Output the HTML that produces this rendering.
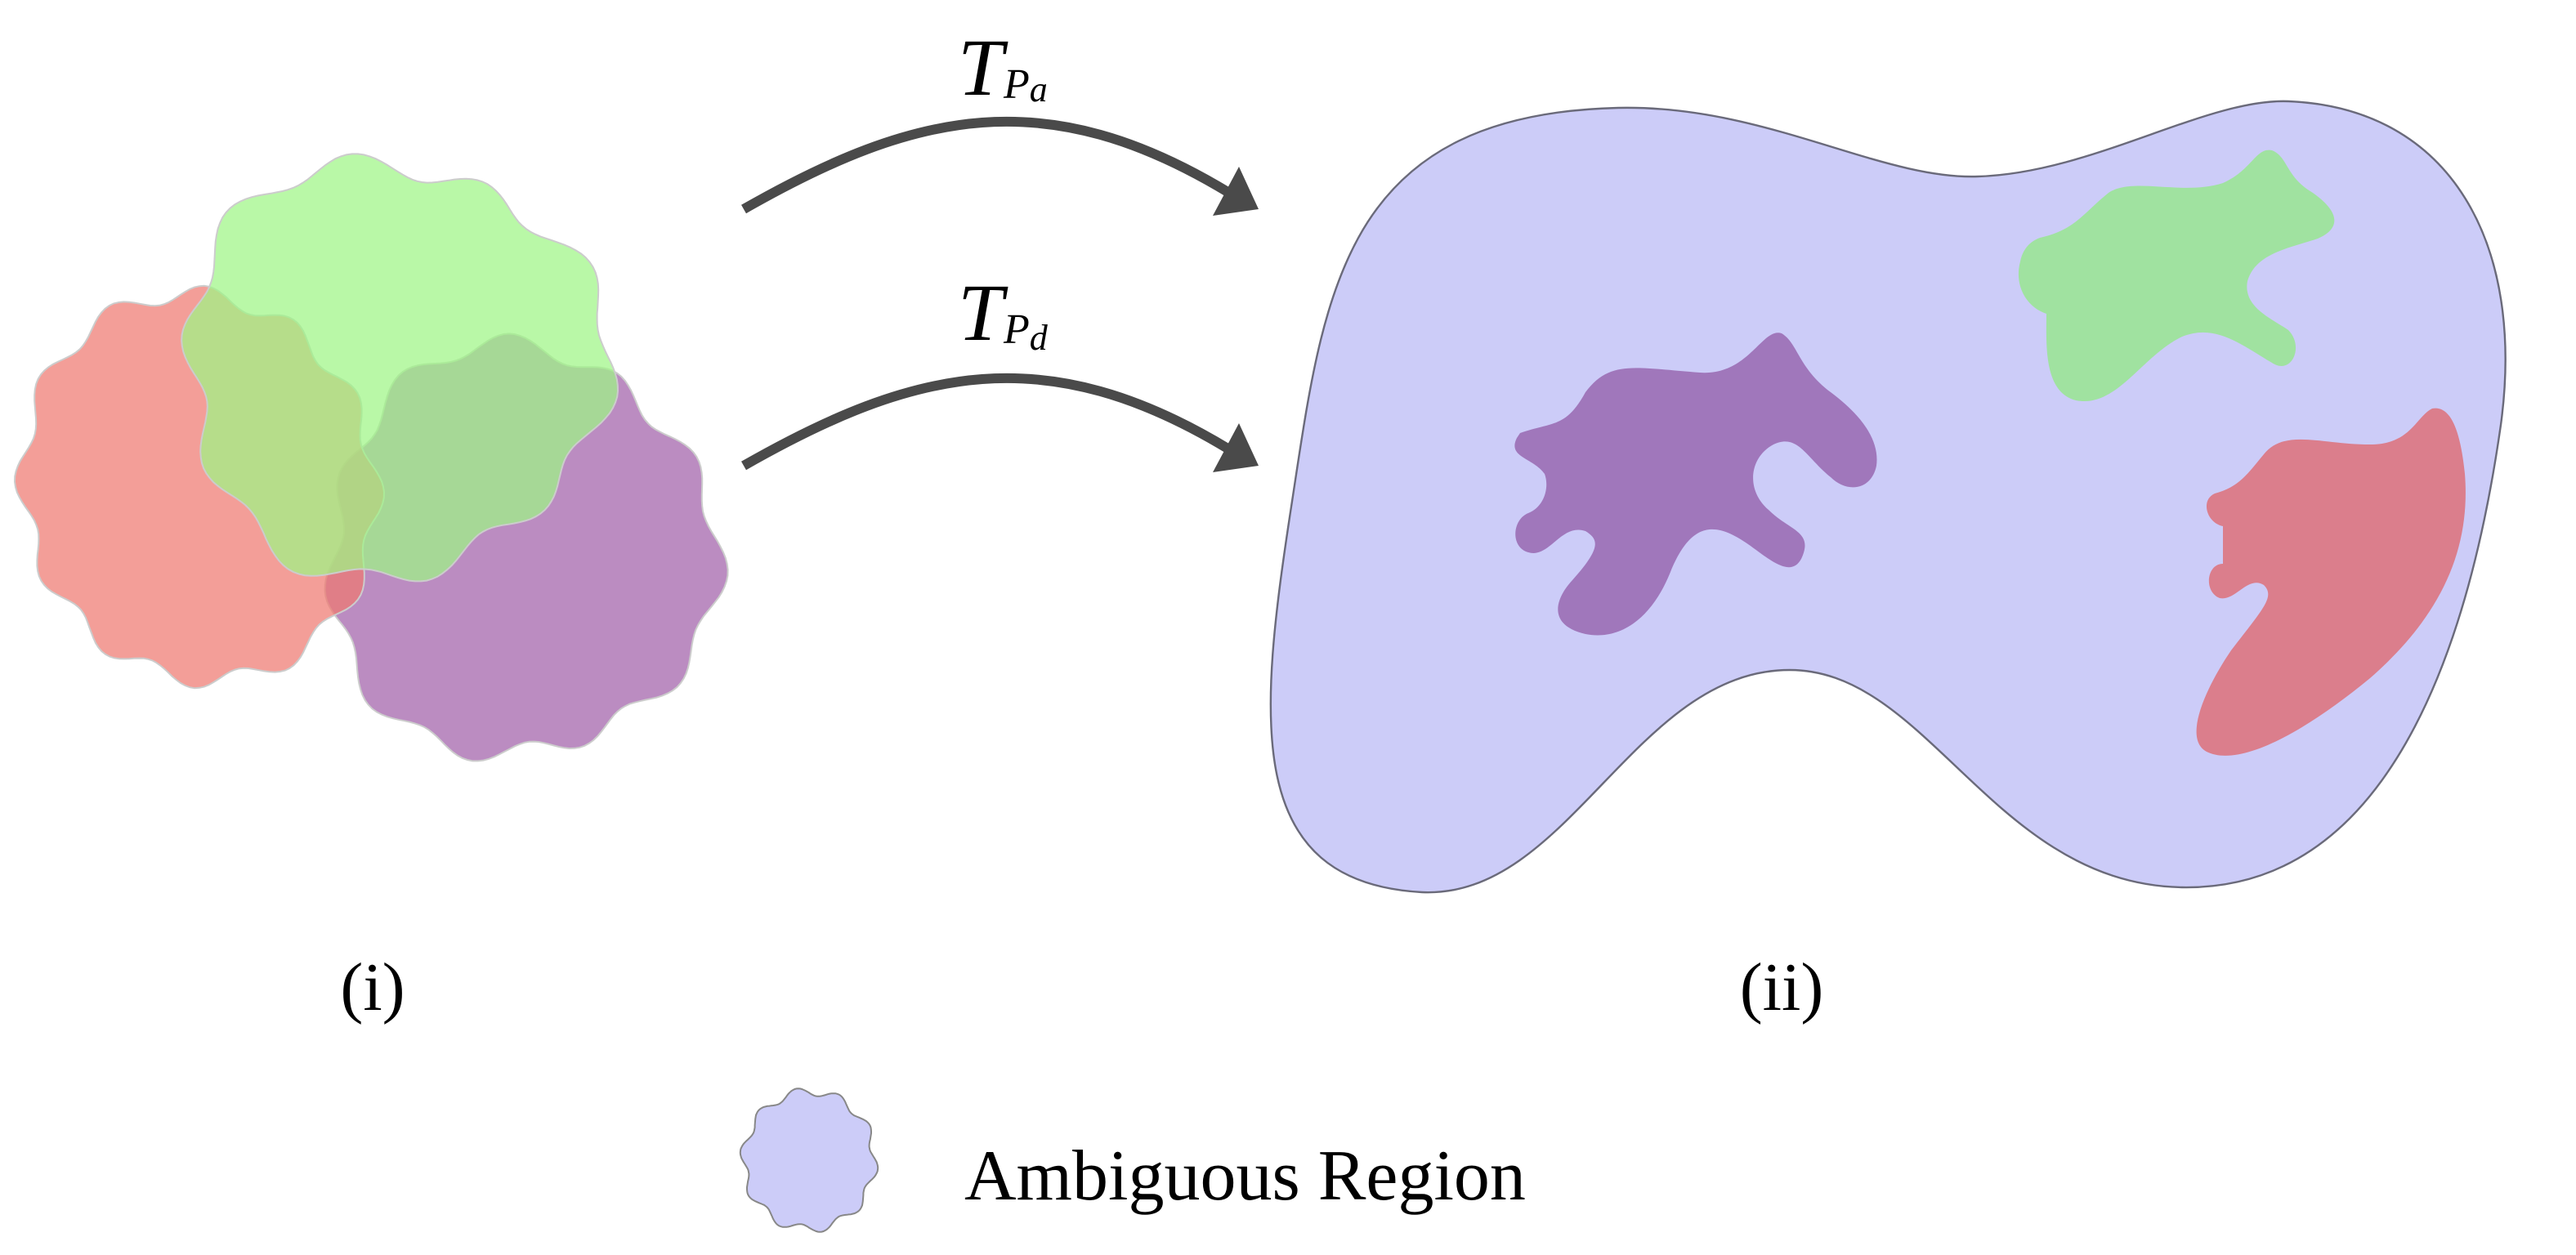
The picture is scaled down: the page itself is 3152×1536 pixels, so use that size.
<!DOCTYPE html>
<html><head><meta charset="utf-8"><style>
html,body{margin:0;padding:0;background:#fff;}
svg{display:block;}
</style></head><body>
<svg id="s" width="3152" height="1536" viewBox="0 0 1576 768" xmlns="http://www.w3.org/2000/svg">
<rect width="1576" height="768" fill="#fff"/>
<g id="left"></g>
<!-- arrows -->
<path d="M455 128 C 560 68, 640 50, 752 118" fill="none" stroke="#4a4a4a" stroke-width="6"/>
<polygon points="758,102 770,128 742,132" fill="#4a4a4a"/>
<path d="M455 285 C 560 225, 640 207, 752 275" fill="none" stroke="#4a4a4a" stroke-width="6"/>
<polygon points="758,259 770,285 742,289" fill="#4a4a4a"/>
<text x="586" y="58" font-family="Liberation Serif, serif" font-style="italic" font-size="50">T</text>
<text x="614" y="60" font-family="Liberation Serif, serif" font-style="italic" font-size="26">P<tspan font-size="22" dy="2">a</tspan></text>
<text x="586" y="208" font-family="Liberation Serif, serif" font-style="italic" font-size="50">T</text>
<text x="614" y="210" font-family="Liberation Serif, serif" font-style="italic" font-size="26">P<tspan font-size="22" dy="4">d</tspan></text>
<!-- big region -->
<path d="M870 546 C 760 540, 770 440, 790 310 C 810 180, 820 70, 990 66 C 1080 64, 1150 110, 1210 108 C 1280 106, 1350 60, 1400 62 C 1500 66, 1545 150, 1530 260 C 1510 400, 1460 545, 1335 543 C 1220 541, 1180 410, 1095 410 C 1000 410, 960 550, 870 546 Z" fill="#ccccf8" stroke="#6a6a7a" stroke-width="1.2"/>
<path d="M930 265 C 950 258, 958 262, 970 240 C 985 220, 1000 225, 1040 228 C 1070 230, 1078 200, 1090 204 C 1100 210, 1100 225, 1120 240 C 1140 255, 1150 270, 1148 285 C 1145 300, 1130 302, 1120 292 C 1105 280, 1100 265, 1085 272 C 1070 280, 1068 300, 1082 312 C 1095 325, 1110 325, 1102 342 C 1095 355, 1080 340, 1068 332 C 1050 320, 1035 318, 1022 350 C 1010 380, 990 392, 970 388 C 948 383, 950 368, 962 355 C 980 335, 978 330, 970 325 C 955 320, 948 342, 935 338 C 924 335, 925 318, 935 314 C 945 310, 948 298, 945 290 C 938 280, 922 280, 928 268 Z" fill="#a077bb"/>
<path d="M1250 145 C 1270 140, 1275 130, 1290 118 C 1305 108, 1335 120, 1360 112 C 1378 104, 1380 90, 1390 92 C 1400 96, 1398 108, 1415 118 C 1432 130, 1432 140, 1418 146 C 1400 152, 1380 155, 1375 172 C 1372 188, 1390 195, 1400 202 C 1410 212, 1402 230, 1390 222 C 1370 210, 1355 198, 1335 206 C 1310 218, 1295 250, 1270 245 C 1250 240, 1252 210, 1252 192 C 1240 188, 1232 175, 1236 160 C 1238 150, 1245 146, 1250 145 Z" fill="#a0e2a0"/>
<path d="M1355 302 C 1370 298, 1375 290, 1385 278 C 1398 262, 1420 272, 1450 272 C 1475 272, 1478 255, 1488 250 C 1498 248, 1505 260, 1508 290 C 1512 340, 1490 380, 1450 415 C 1410 448, 1370 470, 1350 460 C 1335 452, 1350 420, 1365 398 C 1385 372, 1392 365, 1385 358 C 1375 352, 1368 368, 1358 366 C 1348 362, 1350 345, 1360 345 L 1360 322 C 1350 320, 1346 306, 1355 302 Z" fill="#db7e8c"/>
<text x="228" y="618" text-anchor="middle" font-family="Liberation Serif, serif" font-size="42">(i)</text>
<text x="1090" y="618" text-anchor="middle" font-family="Liberation Serif, serif" font-size="42">(ii)</text>
<g id="leg"></g>
<text x="590" y="734" font-family="Liberation Serif, serif" font-size="44">Ambiguous Region</text>
</svg>
<script>
function blob(cx,cy,rx,ry,n,a,ph,extra){
  var d="",N=240;
  for(var i=0;i<=N;i++){
    var t=i/N*2*Math.PI;
    var r=1+a*Math.sin(n*t+ph)+(extra?extra(t):0);
    var x=cx+rx*r*Math.cos(t), y=cy+ry*r*Math.sin(t);
    d+=(i?"L":"M")+x.toFixed(1)+" "+y.toFixed(1);
  }
  return d+"Z";
}
var NS="http://www.w3.org/2000/svg";
function add(g,d,fill,op,stroke){
  var p=document.createElementNS(NS,"path");
  p.setAttribute("d",d);p.setAttribute("fill",fill);p.setAttribute("fill-opacity",op);
  if(stroke){p.setAttribute("stroke",stroke);p.setAttribute("stroke-width","1");}
  document.getElementById(g).appendChild(p);
}
add("left",blob(318,338,118,125,11,0.045,0.5,function(t){return 0.04*Math.sin(3*t+1);}),"#a86cb0",0.78,"#ccc");
add("left",blob(122,298,108,118,12,0.045,1.2,function(t){return 0.03*Math.sin(2*t);}),"#ee7870",0.72,"#ccc");
add("left",blob(240,225,128,126,10,0.05,0.2,function(t){return 0.05*Math.sin(3*t+2);}),"#9ef585",0.72,"#ccc");
add("leg",blob(495,710,40,42,10,0.06,0.3),"#ccccf8",1,"#888");
</script>
</body></html>
